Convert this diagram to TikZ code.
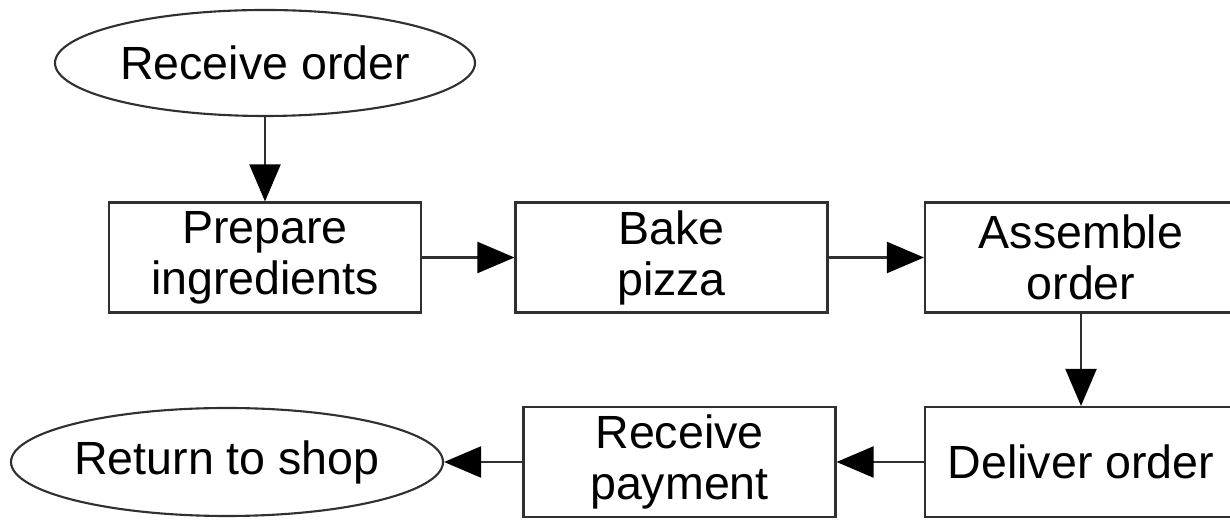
\documentclass[tikz,border=0pt]{standalone}
\usepackage{fontspec}
\setmainfont{Liberation Sans}
\usepackage{tikz}
\usetikzlibrary{arrows.meta,shapes.geometric}
\definecolor{edge}{HTML}{303030}

\begin{document}
\begin{tikzpicture}[
    stepbox/.style={draw=edge,line width=1.2pt,rectangle,minimum width=6.24cm,minimum height=2.2cm,inner sep=0pt,align=center,font=\fontsize{26.5}{29}\selectfont},
    terminal/.style={draw=edge,line width=1.2pt,ellipse,inner sep=0pt,align=center,font=\fontsize{26.5}{29}\selectfont},
    flow/.style={-{Triangle[length=0.74cm,width=0.62cm,black]},line width=1.2pt,draw=edge}]
  \useasboundingbox (0,0) rectangle (24.6,10.4);

  % Start: order comes in
  \node[terminal,minimum width=8.4cm,minimum height=2.12cm] (recv) at (5.3,9.14) {Receive order};

  % Row 1: kitchen steps
  \node[stepbox] (prep) at (5.3,5.25) {Prepare\\ingredients};
  \node[stepbox] (bake) at (13.43,5.25) {Bake\\pizza};
  \node[stepbox] (assem) at (21.62,5.25) {Assemble\\order};

  % Row 2: delivery and back
  \node[stepbox] (deliv) at (21.62,1.16) {Deliver order};
  \node[stepbox] (pay) at (13.59,1.16) {Receive\\payment};
  \node[terminal,minimum width=8.48cm,minimum height=2.16cm] (back) at (4.54,1.16) {Return to shop};

  % Connectors
  \draw[flow] (recv) -- (prep);
  \draw[flow] (prep) -- (bake);
  \draw[flow] (bake) -- (assem);
  \draw[flow] (assem) -- (deliv);
  \draw[flow] (deliv) -- (pay);
  \draw[flow] (pay) -- (back);
\end{tikzpicture}
\end{document}
